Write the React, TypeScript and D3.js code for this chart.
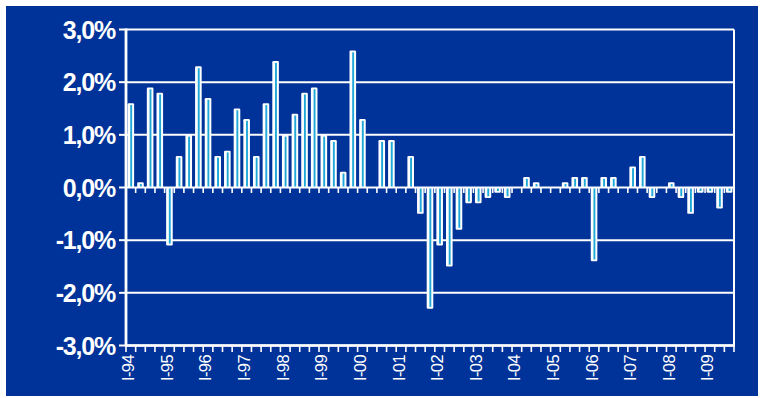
import React from "react";
import * as d3 from "d3";

const quarters: string[] = [];
const years = ["94","95","96","97","98","99","00","01","02","03","04","05","06","07","08","09"];
const romans = ["I", "II", "III", "IV"];

const values: number[] = [
  1.6, 0.1, 1.9, 1.8,
  -1.1, 0.6, 1.0, 2.3,
  1.7, 0.6, 0.7, 1.5,
  1.3, 0.6, 1.6, 2.4,
  1.0, 1.4, 1.8, 1.9,
  1.0, 0.9, 0.3, 2.6,
  1.3, 0.0, 0.9, 0.9,
  0.0, 0.6, -0.5, -2.3,
  -1.1, -1.5, -0.8, -0.3,
  -0.3, -0.2, -0.1, -0.2,
  0.0, 0.2, 0.1, 0.0,
  0.0, 0.1, 0.2, 0.2,
  -1.4, 0.2, 0.2, 0.0,
  0.4, 0.6, -0.2, 0.0,
  0.1, -0.2, -0.5, -0.1,
  -0.1, -0.4, -0.1,
];

for (let i = 0; i < values.length; i++) {
  quarters.push(`${romans[i % 4]}-${years[Math.floor(i / 4)]}`);
}

const yTicks = [3, 2, 1, 0, -1, -2, -3];

const BG = "#003399";
const CYAN = "#1fa8d8";

export default function App() {
  const W = 765, H = 398;
  const left = 126, right = 734, top = 29.5, bottom = 345.5;
  const x = d3.scaleBand<number>().domain(d3.range(values.length)).range([left, right]).padding(0);
  const y = d3.scaleLinear().domain([-3, 3]).range([bottom, top]);
  const bw = x.bandwidth();
  const fmt = (v: number) => `${v.toFixed(1).replace(".", ",")}%`;
  const boundaries = d3.range(values.length + 1).map((i) => left + i * bw);
  const y0 = y(0);

  return (
    <svg width={W} height={H} style={{ position: "absolute", left: 0, top: 0, display: "block" }}>
      <rect x={0} y={0} width={W} height={H} fill="#ffffff" />
      <rect x={6} y={6} width={752} height={390} fill={BG} />
      {/* grid lines */}
      {yTicks.filter((t) => t !== 0).map((t) => (
        <line key={t} x1={left} x2={right} y1={y(t)} y2={y(t)} stroke="#fff" strokeWidth={2} />
      ))}
      {/* right border */}
      <line x1={right} x2={right} y1={y(3)} y2={y(-3)} stroke="#fff" strokeWidth={2} />
      {/* bars */}
      {values.map((v, i) => {
        if (v === 0) return null;
        const cx = (x(i) as number) + bw / 2;
        const y1 = Math.min(y(v), y0);
        const y2 = Math.max(y(v), y0);
        const h = y2 - y1;
        return (
          <g key={i}>
            <rect x={cx - 3.3} y={y1} width={6.6} height={h} rx={1.2} fill="#ffffff" />
            <rect x={cx - 0.6} y={v > 0 ? y1 + 1.8 : y1} width={1.9} height={Math.max(h - 1.8, 0)} fill={CYAN} />
          </g>
        );
      })}
      {/* zero line with ticks */}
      <line x1={left} x2={right} y1={y0} y2={y0} stroke="#fff" strokeWidth={2} />
      {boundaries.map((bx, i) => (
        <line key={`zt${i}`} x1={bx} x2={bx} y1={y0} y2={y0 + 5.5} stroke="#fff" strokeWidth={1.6} />
      ))}
      {/* bottom axis */}
      <line x1={left} x2={right + 1} y1={bottom} y2={bottom} stroke="#fff" strokeWidth={2.5} />
      {boundaries.map((bx, i) => (
        <line key={`bt${i}`} x1={bx} x2={bx} y1={bottom} y2={bottom + 6.5} stroke="#fff" strokeWidth={1.6} />
      ))}
      {/* left axis */}
      <line x1={left} x2={left} y1={top - 1} y2={bottom + 1} stroke="#fff" strokeWidth={2.8} />
      {yTicks.map((t) => (
        <line key={`yt${t}`} x1={left - 7} x2={left} y1={y(t)} y2={y(t)} stroke="#fff" strokeWidth={2} />
      ))}
      {yTicks.map((t) => (
        <text
          key={`yl${t}`}
          x={115}
          y={y(t)}
          dy="0.36em"
          textAnchor="end"
          fill="#fff"
          fontFamily="'Liberation Sans', Arial, sans-serif"
          fontWeight="bold"
          fontSize={25}
          letterSpacing={-1.2}
        >
          {fmt(t)}
        </text>
      ))}
      {/* x labels */}
      {quarters.map((q, i) => {
        if (i % 4 !== 0) return null;
        const cx = (x(i) as number) + bw / 2 - 2.5;
        return (
          <text
            key={`xl${i}`}
            transform={`translate(${cx},${355}) rotate(-90)`}
            dy="0.36em"
            textAnchor="end"
            fill="#fff"
            fontFamily="'Liberation Sans', Arial, sans-serif"
            fontSize={16.5}
            letterSpacing={-0.6}
          >
            {q}
          </text>
        );
      })}
    </svg>
  );
}
